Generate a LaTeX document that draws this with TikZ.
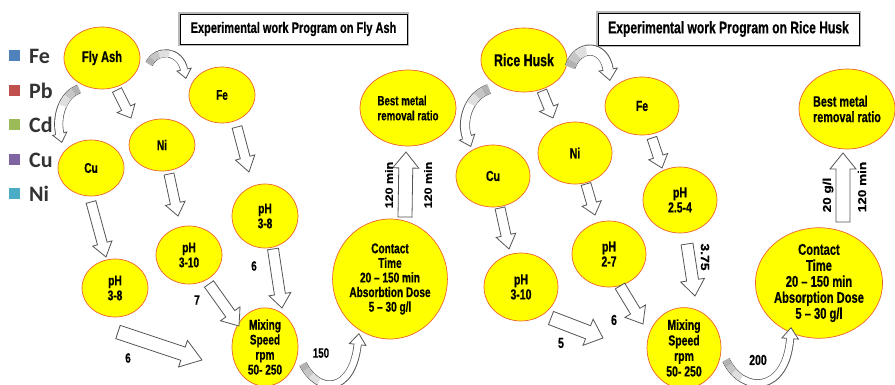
\documentclass[tikz,border=0pt]{standalone}
\usepackage{fontspec}
\newfontfamily\nf[FakeStretch=0.72, BoldFeatures={FakeBold=0.5}]{Liberation Sans}
\newfontfamily\nfu[BoldFeatures={FakeBold=0.5}]{Liberation Sans}
\newfontfamily\lgf{Carlito}
\usetikzlibrary{shapes.geometric,arrows.meta}
\definecolor{elfill}{RGB}{255,255,0}
\definecolor{elline}{RGB}{236,98,48}
\definecolor{arrline}{RGB}{85,85,85}
\definecolor{cFe}{RGB}{79,129,189}
\definecolor{cPb}{RGB}{192,80,77}
\definecolor{cCd}{RGB}{155,187,89}
\definecolor{cCu}{RGB}{128,100,162}
\definecolor{cNi}{RGB}{75,172,198}
\newcommand\fs[2]{\fontsize{#1}{#2}\selectfont}
\tikzset{
  el/.style={ellipse, draw=elline, fill=elfill, line width=0.7pt, inner sep=0pt, align=center, font=\nf\bfseries\fs{14}{15}},
  barr/.style={draw=arrline, fill=white, line width=0.8pt, line join=miter},
  lab/.style={font=\nf\bfseries\fs{13.5}{15}, inner sep=0pt},
  rlab/.style={font=\nfu\bfseries\fs{12.5}{14}, inner sep=0pt},
  titlebox/.style={draw=black, line width=0.6pt, fill=white, preaction={draw=gray!55, line width=3.6pt}, font=\nf\bfseries, inner sep=0pt},
  lgsq/.style={minimum size=11pt, inner sep=0pt},
  lgt/.style={font=\lgf\bfseries\fs{22}{22}, text=black!80, inner sep=0pt, anchor=west}
}
\newcommand\barrow[5]{%
  \pgfpointdiff{\pgfpointanchor{#1}{center}}{\pgfpointanchor{#2}{center}}%
  \pgfgetlastxy{\bax}{\bay}%
  \pgfmathsetmacro\baang{atan2(\bay,\bax)}%
  \pgfmathsetmacro\balen{veclen(\bax,\bay)}%
  \draw[barr, shift={(#1)}, rotate=\baang] (0pt,-#3pt) -- ({\balen pt-#5pt},-#3pt) -- ({\balen pt-#5pt},-#4pt) -- (\balen pt,0pt) -- ({\balen pt-#5pt},#4pt) -- ({\balen pt-#5pt},#3pt) -- (0pt,#3pt) -- cycle;
}
\newcommand\curvarr[4]{%
  \draw[line width=#1pt, draw=arrline, -{Triangle[length=#3pt, width=#2pt, fill=white, line width=0.8pt]}] #4;
  \pgfmathsetmacro\cwi{#1-1.6}\pgfmathsetmacro\csh{#3-1.2}%
  \draw[line width=\cwi pt, white, shorten >=\csh pt] #4;
  \draw[line width=\cwi pt, gray!25, dash pattern=on 24pt off 900pt] #4;
  \draw[line width=\cwi pt, gray!45, dash pattern=on 14pt off 900pt] #4;
  \draw[line width=\cwi pt, gray!60, dash pattern=on 6pt off 900pt] #4;
}
\begin{document}
\begin{tikzpicture}[x=1pt,y=-1pt]
\useasboundingbox[fill=white] (0,0) rectangle (895,385);

% legend
\begin{scope}
\clip (0,0) rectangle (57,385);
\node[lgsq, fill=cFe] (sqfe) at (14,56) {};
\node[lgsq, fill=cPb] (sqpb) at (14,91) {};
\node[lgsq, fill=cCd] (sqcd) at (14,125) {};
\node[lgsq, fill=cCu] (sqcu) at (14,160) {};
\node[lgsq, fill=cNi] (sqni) at (14,194) {};
\node[lgt] (tfe) at (29,56) {Fe};
\node[lgt] (tpb) at (29,91) {Pb};
\node[lgt] (tcd) at (29,125) {Cd};
\node[lgt] (tcu) at (29,160) {Cu};
\node[lgt] (tni) at (29,194) {Ni};
\end{scope}

% titles
\node[titlebox, minimum width=227pt, minimum height=30pt, font=\nf\bfseries\fs{15.3}{17}] (t1) at (293.5,29) {Experimental work Program on Fly Ash};
\node[titlebox, minimum width=261pt, minimum height=32pt, font=\nf\bfseries\fs{16.8}{18}] (t2) at (728.5,29) {Experimental work Program on Rice Husk};

% left ellipses
\node[el, minimum width=76pt, minimum height=62pt, font=\nf\bfseries\fs{15.4}{17}] (fa) at (102,58) {Fly Ash};
\node[el, minimum width=66pt, minimum height=56pt] (fe1) at (222,95) {Fe};
\node[el, minimum width=66pt, minimum height=52pt] (ni1) at (162,145) {Ni};
\node[el, minimum width=66pt, minimum height=56pt] (cu1) at (91,168) {Cu};
\node[el, minimum width=66pt, minimum height=64pt] (pa1) at (265,216) {pH\\3-8};
\node[el, minimum width=66pt, minimum height=58pt] (pb1) at (189,255) {pH\\3-10};
\node[el, minimum width=66pt, minimum height=58pt] (pc1) at (115,288) {pH\\3-8};
\node[el, minimum width=66pt, minimum height=70pt] (mx1) at (265,347) {Mixing\\Speed\\rpm\\50- 250};
\node[el, minimum width=88pt, minimum height=120pt, font=\nf\bfseries\fs{14}{14.6}] (ct1) at (390,279) {Contact\\Time\\20 – 150 min\\Absorbtion Dose\\5 – 30 g/l};
\node[el, minimum width=96pt, minimum height=76pt, align=left, font=\nf\bfseries\fs{13.5}{15}] (bm1) at (408,108) {Best metal\\removal ratio};

% right ellipses
\node[el, minimum width=86pt, minimum height=64pt, font=\nf\bfseries\fs{17.2}{19}] (rh) at (524,60) {Rice Husk};
\node[el, minimum width=74pt, minimum height=58pt, font=\nf\bfseries\fs{14.5}{16}] (fe2) at (642,106) {Fe};
\node[el, minimum width=74pt, minimum height=62pt, font=\nf\bfseries\fs{14.5}{16}] (ni2) at (575,153) {Ni};
\node[el, minimum width=74pt, minimum height=62pt, font=\nf\bfseries\fs{14.5}{16}] (cu2) at (493,176) {Cu};
\node[el, minimum width=74pt, minimum height=66pt, font=\nf\bfseries\fs{14.5}{15}] (pa2) at (680,200) {pH\\2.5-4};
\node[el, minimum width=74pt, minimum height=66pt, font=\nf\bfseries\fs{14.5}{15}] (pb2) at (609,254) {pH\\2-7};
\node[el, minimum width=74pt, minimum height=68pt, font=\nf\bfseries\fs{14.5}{15}] (pc2) at (521,287) {pH\\3-10};
\node[el, minimum width=74pt, minimum height=72pt, font=\nf\bfseries\fs{14.5}{15.5}] (mx2) at (684,348) {Mixing\\Speed\\rpm\\50- 250};
\node[el, minimum width=98pt, minimum height=106pt, font=\nf\bfseries\fs{15.5}{16}] (ct2) at (819,283) {Contact\\Time\\20 – 150 min\\Absorption Dose\\5 – 30 g/l};
\node[el, minimum width=96pt, minimum height=80pt, align=left, font=\nf\bfseries\fs{15}{15.5}] (bm2) at (847,109) {Best metal\\removal ratio};

% block arrow end points
\coordinate (a1s) at (117,90);  \coordinate (a1e) at (131,118);
\coordinate (a2s) at (237,127); \coordinate (a2e) at (249,172);
\coordinate (a3s) at (169,174); \coordinate (a3e) at (178,216);
\coordinate (a4s) at (91,202);  \coordinate (a4e) at (106,257);
\coordinate (a5s) at (209,284); \coordinate (a5e) at (239,326);
\coordinate (a6s) at (273,249); \coordinate (a6e) at (282,308);
\coordinate (a7s) at (118,332); \coordinate (a7e) at (202,360);
\coordinate (a8s) at (405,217); \coordinate (a8e) at (406,152);
\coordinate (b1s) at (542,91);  \coordinate (b1e) at (553,118);
\coordinate (b2s) at (652,138); \coordinate (b2e) at (662,168);
\coordinate (b3s) at (586,184); \coordinate (b3e) at (595,215);
\coordinate (b4s) at (500,208); \coordinate (b4e) at (509,249);
\coordinate (b5s) at (687,244); \coordinate (b5e) at (695,296);
\coordinate (b6s) at (620,286); \coordinate (b6e) at (643,324);
\coordinate (b7s) at (551,318); \coordinate (b7e) at (603,338);
\coordinate (b8s) at (843,222); \coordinate (b8e) at (843,153);

\barrow{a1s}{a1e}{5}{10}{11}
\barrow{a2s}{a2e}{5}{10}{15}
\barrow{a3s}{a3e}{5}{10}{13}
\barrow{a4s}{a4e}{5}{10}{14}
\barrow{a5s}{a5e}{5.5}{12}{15}
\barrow{a6s}{a6e}{5.5}{11}{14}
\barrow{a7s}{a7e}{7}{14}{20}
\barrow{a8s}{a8e}{7}{13}{16}
\barrow{b1s}{b1e}{5}{10}{11}
\barrow{b2s}{b2e}{5}{10}{12}
\barrow{b3s}{b3e}{5}{10}{12}
\barrow{b4s}{b4e}{5}{10}{14}
\barrow{b5s}{b5e}{6}{12}{16}
\barrow{b6s}{b6e}{5.5}{12}{15}
\barrow{b7s}{b7e}{7}{14}{16}
\barrow{b8s}{b8e}{7}{13}{16}

% curved arrows
\coordinate (c1s) at (149,64);  \coordinate (c1e) at (186,79);
\coordinate (c2s) at (79,89);   \coordinate (c2e) at (62,143);
\coordinate (c3s) at (570,67);  \coordinate (c3e) at (610,81);
\coordinate (c4s) at (489,89);  \coordinate (c4e) at (471,147);
\coordinate (c5s) at (303,364); \coordinate (c5e) at (359,333);
\coordinate (c6s) at (726,360); \coordinate (c6e) at (791,327);
\curvarr{8}{16}{10}{(c1s) .. controls (157,48) and (180,50) .. (c1e)}
\curvarr{9}{16}{10}{(c2s) .. controls (62,95) and (56,118) .. (c2e)}
\curvarr{11}{20}{12}{(c3s) .. controls (578,44) and (604,44) .. (c3e)}
\curvarr{10}{18}{11}{(c4s) .. controls (468,96) and (461,122) .. (c4e)}
\curvarr{8}{18}{12}{(c5s) .. controls (318,394) and (352,394) .. (c5e)}
\curvarr{8}{18}{12}{(c6s) .. controls (742,394) and (786,394) .. (c6e)}

% labels
\node[lab] (l1) at (128,358) {6};
\node[lab] (l2) at (197,300) {7};
\node[lab] (l3) at (254,266) {6};
\node[lab] (l4) at (321,353) {150};
\node[rlab, rotate=90] (l5) at (389,185) {\scalebox{1}[0.85]{120 min}};
\node[rlab, rotate=90] (l6) at (428,185) {\scalebox{1}[0.85]{120 min}};
\node[rlab, rotate=-90, font=\nfu\bfseries\fs{14}{15}] (r1) at (705,257) {\scalebox{1}[0.85]{3.75}};
\node[lab, font=\nf\bfseries\fs{14.5}{15}] (r2) at (614,320) {6};
\node[lab, font=\nf\bfseries\fs{14.5}{15}] (r3) at (561,343) {5};
\node[lab, font=\nf\bfseries\fs{14.5}{15}] (r4) at (758,360) {200};
\node[rlab, rotate=90, font=\nfu\bfseries\fs{13.5}{15}] (r5) at (828,195) {\scalebox{1}[0.85]{20 g/l}};
\node[rlab, rotate=90, font=\nfu\bfseries\fs{13.5}{15}] (r6) at (862,187) {\scalebox{1}[0.85]{120 min}};
\end{tikzpicture}
\end{document}
